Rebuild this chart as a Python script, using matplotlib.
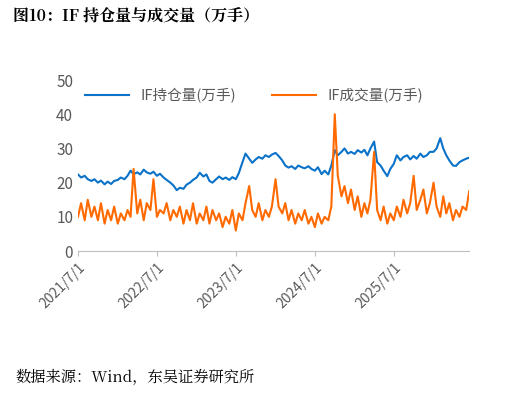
import matplotlib
matplotlib.use("Agg")
import matplotlib.pyplot as plt
import pandas as pd

plt.rcParams['font.family'] = ['Noto Sans CJK SC', 'DejaVu Sans']

dates = pd.date_range("2021-07-01", periods=120, freq="SMS")
open_interest = [
    22.4,21.5,22,21,20.5,21,20,20.6,19.5,20.3,19.6,20.5,
    20.8,21.5,21,22,23.5,22.5,23,22.4,23.8,23,22.6,23.2,
    22,22.6,21.5,20.8,20,19.2,17.8,18.5,18.2,19.4,20,20.8,
    21.5,22.9,21.8,22.4,20.5,20,21,21.8,21,21.5,20.8,21.6,
    21,22.8,26,28.5,27,25.8,26.8,27.5,27,28,27.5,28.2,
    28.7,27.8,26.5,25,24.4,24.8,24,25,24.5,24.2,24.8,24,
    23.5,24.5,22.5,23.5,22.4,25,29.5,28,29,30,28.5,29,
    28.4,29.5,28.8,29.6,28,30,32,26,25,23.5,21.9,24,
    25.5,28,26.5,27.5,28,26.8,27.8,27,28.5,27.5,28,29,
    29,30,33,30,28,26.5,25,24.9,26,26.5,27,27.3]
volume = [
    10,14,9,15,10,13,9,14,8,12,9,13,
    8,11,9,12,10,24,11,15,9,14,12,21,
    10,12,11,14,9,12,10,13,8,12,9,14,
    8,11,9,13,8,12,9,11,7,10,8,12,
    6,11,9,14,19,12,10,14,9,12,10,13,
    21,13,11,14,9,12,8,11,9,12,8,10,
    7,11,8,10,9,13,40,22,16,19,14,18,
    12,16,10,14,11,15,29,12,9,13,8,11,
    9,13,10,15,11,14,22,12,15,18,11,14,
    20,13,10,16,11,14,9,12,10,13,12,17.5]
tick_dates = ["2021/7/1","2022/7/1","2023/7/1","2024/7/1","2025/7/1"]

fig = plt.figure(figsize=(5.1, 4.17), dpi=100)
ax = fig.add_axes([0.153, 0.398, 0.767, 0.41])
ax.plot(dates, open_interest, color="#0A72C8", lw=1.5, label="IF持仓量(万手)")
ax.plot(dates, volume, color="#FF6A00", lw=1.5, label="IF成交量(万手)")
ax.set_ylim(0, 50)
ax.set_yticks(range(0, 51, 10))
ax.set_xlim(pd.Timestamp("2021-07-01"), dates[-1])
ax.set_xticks([pd.Timestamp(d.replace("/", "-")) for d in tick_dates])
ax.set_xticklabels(tick_dates, rotation=45, ha="right", rotation_mode="anchor")
for s in ["top", "right", "left"]:
    ax.spines[s].set_visible(False)
ax.spines["bottom"].set_color("#BFBFBF")
ax.tick_params(axis="y", length=0, labelsize=11, colors="#595959")
ax.tick_params(axis="x", labelsize=10, colors="#595959", color="#BFBFBF")
ax.legend(loc="upper center", ncol=2, frameon=False, fontsize=10.5,
          bbox_to_anchor=(0.45, 1.03), handlelength=3, columnspacing=2.5,
          labelcolor="#595959")
fig.text(0.025, 0.962, "图10：IF 持仓量与成交量（万手）", fontsize=11.5,
         fontweight="bold", va="center",
         family=['Noto Serif CJK SC', 'Noto Sans CJK SC', 'DejaVu Sans'])
fig.text(0.03, 0.093, "数据来源：Wind，东吴证券研究所", fontsize=11, va="center",
         family=['Noto Serif CJK SC', 'Noto Sans CJK SC', 'DejaVu Sans'])
fig.savefig("out.png", dpi=100)
